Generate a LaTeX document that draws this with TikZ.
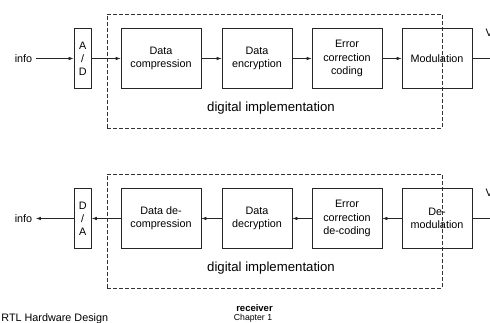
\documentclass[tikz,border=0pt]{standalone}
\usepackage{fontspec}
\setmainfont{Liberation Sans}
\usetikzlibrary{arrows.meta}
\begin{document}
\begin{tikzpicture}[x=1pt,y=-1pt,
  blk/.style={draw=black!85, line width=0.7pt, minimum height=59.5pt, align=center, inner sep=0pt,
    font=\fontsize{10.8}{13.2}\selectfont},
  conv/.style={blk, minimum width=17.5pt},
  wide/.style={blk, minimum width=80pt},
  norm/.style={blk, minimum width=70pt},
  dbox/.style={draw=black!80, line width=0.7pt, dash pattern=on 4pt off 2pt, minimum width=335pt, minimum height=114pt, inner sep=0pt},
  lbl/.style={inner sep=0pt, font=\fontsize{10.8}{13}\selectfont},
  big/.style={inner sep=0pt, font=\fontsize{13.2}{15}\selectfont},
  arr/.style={line width=0.7pt, draw=black!85, -{Latex[length=5pt,width=3.6pt]}},
  ln/.style={line width=0.7pt, draw=black!85}]
\useasboundingbox (0,0) rectangle (490,323);
% transmitter row
\node[dbox] (d1) at (274.5,71) {};
\node[big] (di1) at (271,108) {digital implementation};
\node[lbl, anchor=east] (info1) at (32.4,58.5) {info};
\node[conv] (ad) at (82.7,58.5) {A\\/\\D};
\node[wide] (comp) at (161,58.5) {Data\\compression};
\node[norm] (enc) at (257,58.5) {Data\\encryption};
\node[norm] (ecc) at (347,58.5) {Error\\correction\\coding};
\node[norm] (mod) at (437,58.5) {Modulation};
\coordinate (out1) at (495,58.5);
\node[lbl, anchor=base west] (v1) at (485.5,37) {V};
\draw[arr] (info1.east) ++(3.5,0) -- (ad.west);
\draw[arr] (ad) -- (comp);
\draw[arr] (comp) -- (enc);
\draw[arr] (enc) -- (ecc);
\draw[arr] (ecc) -- (mod);
\draw[ln] (mod) -- (out1);
% receiver row
\node[dbox] (d2) at (274.5,231) {};
\node[big] (di2) at (271,268) {digital implementation};
\node[lbl, anchor=east] (info2) at (32.4,218.5) {info};
\node[conv] (da) at (82.7,218.5) {D\\/\\A};
\node[wide] (dcomp) at (161,218.5) {Data de-\\compression};
\node[norm] (dec) at (257,218.5) {Data\\decryption};
\node[norm] (ecd) at (347,218.5) {Error\\correction\\de-coding};
\node[norm] (dmod) at (437,218.5) {De-\\modulation};
\coordinate (in2) at (495,218.5);
\node[lbl, anchor=base west] (v2) at (485.5,197) {V};
\draw[ln] (in2) -- (dmod);
\draw[arr] (dmod) -- (ecd);
\draw[arr] (ecd) -- (dec);
\draw[arr] (dec) -- (dcomp);
\draw[arr] (dcomp) -- (da);
\draw[arr, shorten >=3.5pt] (da.west) -- (info2.east);
% footer
\node[anchor=base east, inner sep=0pt, font=\fontsize{10.8}{13}\selectfont] (rtl) at (108.3,321.5) {RTL Hardware Design};
\node[anchor=base, inner sep=0pt, font=\fontsize{9.5}{11}\selectfont\bfseries] (rcv) at (254.5,311) {receiver};
\node[anchor=base, inner sep=0pt, font=\fontsize{8.7}{10}\selectfont] (ch) at (253,320) {Chapter 1};
\end{tikzpicture}
\end{document}
